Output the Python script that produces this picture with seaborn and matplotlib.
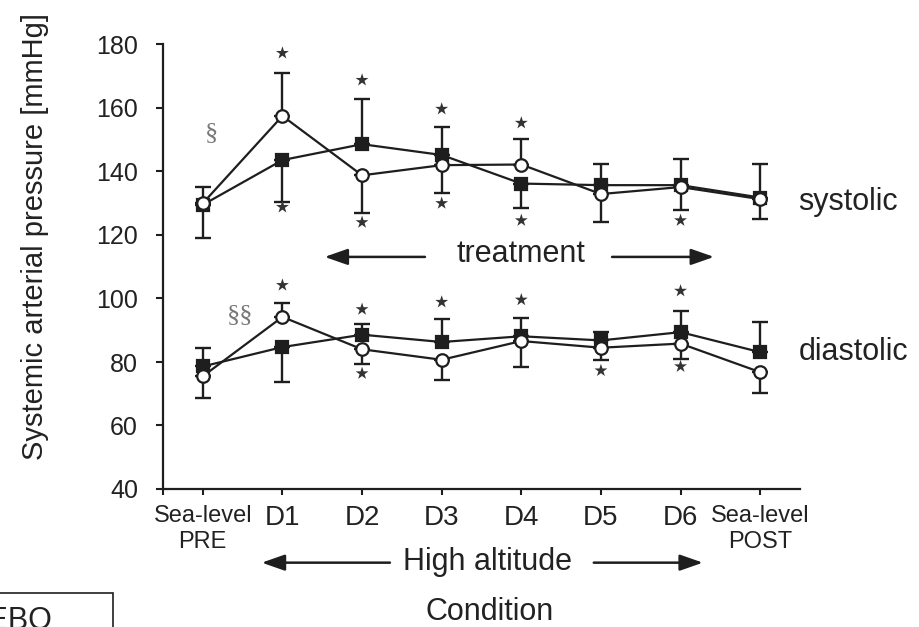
import numpy as np
import pandas as pd
import matplotlib
matplotlib.use('Agg')
import matplotlib.pyplot as plt
import seaborn as sns
from matplotlib.patches import Rectangle

# Conditions on the x axis
conditions = ['Sea-level\nPRE', 'D1', 'D2', 'D3', 'D4', 'D5', 'D6', 'Sea-level\nPOST']

# Systolic pressure (mmHg): open circles / filled squares
sys_open = [130.0, 157.5, 138.8, 142.0, 142.2, 132.9, 135.1, 131.3]
sys_filled = [129.5, 143.6, 148.6, 145.2, 136.2, 135.7, 135.7, 131.8]
# one-sided SD bars: positive = drawn up, negative = drawn down
sys_open_sd = [5.1, 13.6, -11.9, -8.8, 8.0, -8.8, -7.3, 11.2]
sys_filled_sd = [-10.5, -13.2, 14.1, 8.7, -7.8, 6.8, 8.1, -6.8]

# Diastolic pressure (mmHg)
dia_open = [75.5, 94.2, 84.0, 80.7, 86.6, 84.5, 85.8, 76.8]
dia_filled = [78.6, 84.7, 88.6, 86.3, 88.1, 86.8, 89.4, 83.1]
dia_open_sd = [-6.9, 4.5, -4.5, -6.3, -8.2, -4.0, -4.8, -6.6]
dia_filled_sd = [5.8, -11.0, 3.5, 7.4, 5.7, 2.6, 6.7, 9.5]

# significance stars (condition index, y position)
star_x = [1, 2, 3, 4, 1, 2, 3, 4, 6,
          1, 2, 3, 4, 6, 2, 5, 6]
star_y = [177.3, 168.8, 159.7, 155.3, 128.8, 124.0, 130.0, 124.6, 124.6,
          104.2, 96.6, 98.9, 99.6, 102.4, 76.4, 77.3, 78.6]

ink = '#1e1e1e'
txt = '#222222'

sns.set_theme(style='ticks')
plt.rcParams['font.family'] = ['Liberation Sans', 'DejaVu Sans']

fig = plt.figure(figsize=(9.2, 6.27), dpi=100)
ax = fig.add_axes([163 / 920, 138 / 627, 637 / 920, 444.5 / 627])

pos = np.arange(len(conditions))
series = [
    (sys_filled, sys_filled_sd, 's', ink),
    (sys_open, sys_open_sd, 'o', 'white'),
    (dia_filled, dia_filled_sd, 's', ink),
    (dia_open, dia_open_sd, 'o', 'white'),
]

for vals, sd, mk, fc in series:
    sd = np.array(sd)
    lower = np.where(sd < 0, -sd, 0)
    upper = np.where(sd > 0, sd, 0)
    ax.errorbar(pos, vals, yerr=[lower, upper], fmt='none', ecolor=ink,
                elinewidth=1.7, capsize=6, capthick=1.7, zorder=2)
    df = pd.DataFrame({'pos': pos, 'value': vals})
    sns.lineplot(data=df, x='pos', y='value', ax=ax, color=ink, lw=1.6,
                 marker=mk, markersize=9, markerfacecolor=fc,
                 markeredgecolor=ink, markeredgewidth=1.6, zorder=3)

sns.scatterplot(x=star_x, y=star_y, ax=ax, marker='*', s=95, color='#333333',
                edgecolor='none', zorder=4)

# section signs
ax.text(0.11, 152, '§', family='Liberation Serif', fontsize=19, color='#777777',
        ha='center', va='center')
ax.text(0.47, 94.7, '§§', family='Liberation Serif', fontsize=19, color='#777777',
        ha='center', va='center')

# treatment arrows
arr = dict(arrowstyle='-|>,head_length=1.0,head_width=0.35', color=ink, lw=1.8,
           shrinkA=0, shrinkB=0, mutation_scale=14)
ax.annotate('', xy=(1.53, 113.1), xytext=(2.79, 113.1), arrowprops=arr)
ax.annotate('', xy=(6.42, 113.1), xytext=(5.14, 113.1), arrowprops=arr)
ax.text(3.99, 113.9, 'treatment', fontsize=22, color=txt, ha='center', va='center')

# high altitude arrows below the axis
ax.annotate('', xy=(0.74, 16.8), xytext=(2.35, 16.8), arrowprops=arr,
            annotation_clip=False)
ax.annotate('', xy=(6.28, 16.8), xytext=(4.91, 16.8), arrowprops=arr,
            annotation_clip=False)
ax.text(3.58, 17.1, 'High altitude', fontsize=22, color=txt, ha='center',
        va='center', clip_on=False)

ax.text(7.48, 127.8, 'systolic', fontsize=22, color=txt, ha='left',
        va='baseline', clip_on=False)
ax.text(7.48, 80.5, 'diastolic', fontsize=22, color=txt, ha='left',
        va='baseline', clip_on=False)

ax.set_xlim(-0.5, 7.5)
ax.set_ylim(40, 180)
ax.set_yticks(range(40, 181, 20))
ax.set_xticks(pos)
ax.set_xticklabels(conditions, linespacing=1.25)
ax.set_xticks([-0.5], minor=True)
for lab in ax.get_xticklabels():
    lab.set_fontsize(17 if 'Sea' in lab.get_text() else 20)
    lab.set_color(txt)
for lab in ax.get_yticklabels():
    lab.set_fontsize(18)
    lab.set_color(txt)

ax.tick_params(axis='y', length=5, width=1.5, pad=13, color=ink)
ax.tick_params(axis='x', which='both', length=4.5, width=1.5, pad=7, color=ink)
sns.despine(ax=ax)
for s in ['left', 'bottom']:
    ax.spines[s].set_linewidth(1.6)
    ax.spines[s].set_color(ink)

ax.set_xlabel('Condition', fontsize=22, color=txt)
ax.xaxis.set_label_coords(0.512, -0.277)
ax.xaxis.label.set_va('center')
ax.set_ylabel('Systemic arterial pressure [mmHg]', fontsize=21, color=txt)
ax.yaxis.set_label_coords(-0.201, 0.567)
ax.yaxis.label.set_va('center')

# legend box cut off at the lower left corner
fig.patches.append(Rectangle((-0.1, -0.1), 0.1228 + 0.1, 0.0542 + 0.1,
                             transform=fig.transFigure, fill=False,
                             edgecolor=ink, lw=1.2))
fig.text(52 / 920, -0.003, 'PLACEBO', fontsize=22, color=txt, ha='right',
         va='baseline')

fig.savefig('out.png', dpi=100)
